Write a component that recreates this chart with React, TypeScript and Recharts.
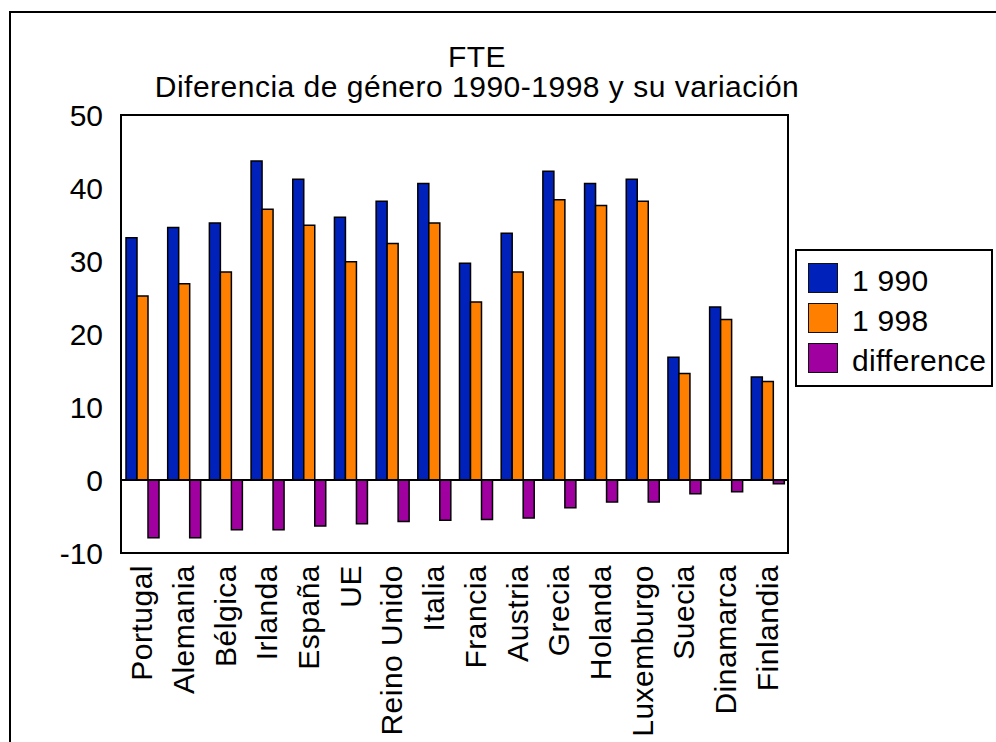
import {
  BarChart,
  Bar,
  XAxis,
  YAxis,
  ReferenceLine,
  ReferenceArea,
} from "recharts";

const countries = [
  "Portugal",
  "Alemania",
  "Bélgica",
  "Irlanda",
  "España",
  "UE",
  "Reino Unido",
  "Italia",
  "Francia",
  "Austria",
  "Grecia",
  "Holanda",
  "Luxemburgo",
  "Suecia",
  "Dinamarca",
  "Finlandia",
];
const gap1990 = [33.2, 34.6, 35.2, 43.7, 41.2, 36.0, 38.2, 40.6, 29.7, 33.8, 42.3, 40.6, 41.2, 16.8, 23.7, 14.1];
const gap1998 = [25.2, 26.9, 28.5, 37.1, 34.9, 29.9, 32.4, 35.2, 24.4, 28.5, 38.4, 37.6, 38.2, 14.6, 22.0, 13.5];
const difference = [-7.9, -7.9, -6.8, -6.8, -6.3, -6.0, -5.7, -5.5, -5.4, -5.2, -3.8, -3.0, -3.0, -1.9, -1.6, -0.5];
const yTicks = [-10, 0, 10, 20, 30, 40, 50];
const titleLines = ["FTE", "Diferencia de género 1990-1998 y su variación"];

const series = [
  { key: "y1990", name: "1 990", fill: "#0022bb" },
  { key: "y1998", name: "1 998", fill: "#ff8000" },
  { key: "diff", name: "difference", fill: "#a0009f" },
];

const data = countries.map((c, i) => ({
  country: c,
  y1990: gap1990[i],
  y1998: gap1998[i],
  diff: difference[i],
}));

const FONT = '"Liberation Sans", Arial, sans-serif';

// rotated category labels under the plot
function CountryTick(props: any) {
  const { x, y, payload } = props;
  const ty = y + 10;
  return (
    <text
      x={x}
      y={ty}
      dy="0.35em"
      transform={`rotate(-90 ${x} ${ty})`}
      textAnchor="end"
      fontSize={30}
      letterSpacing={0.5}
      fontFamily={FONT}
      fill="#000"
    >
      {payload.value}
    </text>
  );
}

export default function App() {
  return (
    <div
      style={{
        position: "fixed",
        left: 0,
        top: 0,
        width: 996,
        height: 742,
        overflow: "hidden",
        background: "#fff",
        fontFamily: FONT,
      }}
    >
      <div
        style={{
          position: "absolute",
          left: 9,
          top: 11,
          width: 1000,
          height: 760,
          border: "2px solid #000",
        }}
      />
      {titleLines.map((t, i) => (
        <div
          key={t}
          style={{
            position: "absolute",
            left: 77,
            width: 800,
            top: i === 0 ? 46 : 76,
            textAlign: "center",
            fontSize: 30,
            lineHeight: "22px",
            letterSpacing: 0.5,
            color: "#000",
            whiteSpace: "nowrap",
          }}
        >
          {t}
        </div>
      ))}
      <div style={{ position: "absolute", left: 11, top: 13 }}>
        <BarChart
          width={985}
          height={729}
          data={data}
          margin={{ top: 102, right: 208, left: 10, bottom: 0 }}
          barCategoryGap={5}
          barGap={0}
        >
          <XAxis
            dataKey="country"
            interval={0}
            axisLine={false}
            tickLine={false}
            tickSize={0}
            height={189}
            tick={<CountryTick />}
          />
          <YAxis
            domain={[-10, 50]}
            ticks={yTicks}
            interval={0}
            width={100}
            axisLine={false}
            tickLine={false}
            tickSize={0}
            tickMargin={18}
            tick={{ fontSize: 30, fill: "#000", fontFamily: FONT }}
          />
          <ReferenceArea y1={-10} y2={50} fill="none" stroke="#000" strokeWidth={2} />
          <ReferenceLine y={0} stroke="#000" strokeWidth={2} />
          {series.map((s) => (
            <Bar
              key={s.key}
              dataKey={s.key}
              name={s.name}
              fill={s.fill}
              stroke="#000"
              strokeWidth={1.5}
              isAnimationActive={false}
            />
          ))}
        </BarChart>
      </div>
      <div
        style={{
          position: "absolute",
          left: 795,
          top: 249,
          width: 194,
          height: 134,
          border: "2px solid #000",
          background: "#fff",
        }}
      >
        {series.map((s, i) => (
          <div key={s.key}>
            <div
              style={{
                position: "absolute",
                left: 11,
                top: 12 + i * 40,
                width: 30,
                height: 30,
                boxSizing: "border-box",
                background: s.fill,
                border: "1.5px solid #111",
              }}
            />
            <div
              style={{
                position: "absolute",
                left: 55,
                top: 19 + i * 40,
                fontSize: 30,
                lineHeight: "22px",
                letterSpacing: 0.3,
                color: "#000",
                whiteSpace: "nowrap",
              }}
            >
              {s.name}
            </div>
          </div>
        ))}
      </div>
    </div>
  );
}
